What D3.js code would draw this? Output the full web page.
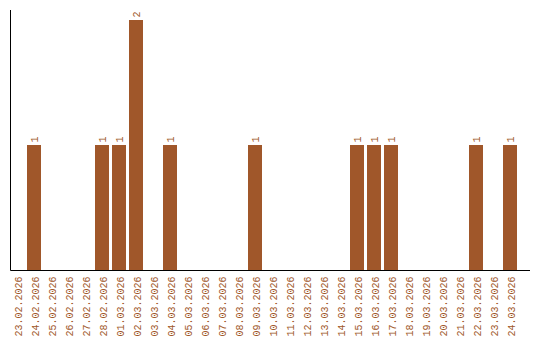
<!DOCTYPE html>
<html><head><meta charset="utf-8">
<script src="https://cdn.jsdelivr.net/npm/d3@7"></script>
<style>body{margin:0;background:#fff}svg{display:block}</style>
</head><body>
<svg id="c" width="540" height="340"></svg>
<script>
const dates = ["23.02.2026","24.02.2026","25.02.2026","26.02.2026","27.02.2026","28.02.2026","01.03.2026","02.03.2026","03.03.2026","04.03.2026","05.03.2026","06.03.2026","07.03.2026","08.03.2026","09.03.2026","10.03.2026","11.03.2026","12.03.2026","13.03.2026","14.03.2026","15.03.2026","16.03.2026","17.03.2026","18.03.2026","19.03.2026","20.03.2026","21.03.2026","22.03.2026","23.03.2026","24.03.2026"];
const counts = [0,1,0,0,0,1,1,2,0,1,0,0,0,0,1,0,0,0,0,0,1,1,1,0,0,0,0,1,0,1];

const color = "#a0572a";
const font = "Liberation Mono, Courier New, monospace";
const svg = d3.select("#c");
const x = d3.scaleBand().domain(dates).range([10, 517]).paddingInner(3/17).paddingOuter(0);
const y = d3.scaleLinear().domain([0, 2]).range([270, 20]);
const data = dates.map((d,i)=>({d, v:counts[i]}));

svg.selectAll("rect.bar").data(data.filter(d=>d.v>0)).join("rect")
  .attr("class","bar")
  .attr("x", d=>x(d.d)).attr("width", x.bandwidth())
  .attr("y", d=>y(d.v)).attr("height", d=>y(0)-y(d.v))
  .attr("fill", color);

svg.selectAll("text.val").data(data.filter(d=>d.v>0)).join("text")
  .attr("class","val")
  .attr("transform", d=>`translate(${x(d.d)+x.bandwidth()/2+3.5},${y(d.v)-2.5}) rotate(-90)`)
  .attr("font-family",font).attr("font-size",10)
  .attr("fill", color).text(d=>d.v);

// x axis
const xa = svg.append("g").attr("transform","translate(0,270)")
  .call(d3.axisBottom(x).tickSize(0).tickPadding(0));
xa.select(".domain").remove();
xa.selectAll("text")
  .attr("font-family",font).attr("font-size",10)
  .attr("fill", color)
  .attr("text-anchor","end")
  .attr("dy", null)
  .attr("y", 0)
  .attr("transform","translate(4.5,6.5) rotate(-90)");
svg.append("line").attr("x1",10.5).attr("x2",530).attr("y1",270.5).attr("y2",270.5).attr("stroke","#000");
svg.append("line").attr("x1",10.5).attr("x2",10.5).attr("y1",10).attr("y2",270.5).attr("stroke","#000");
</script>
</body></html>
